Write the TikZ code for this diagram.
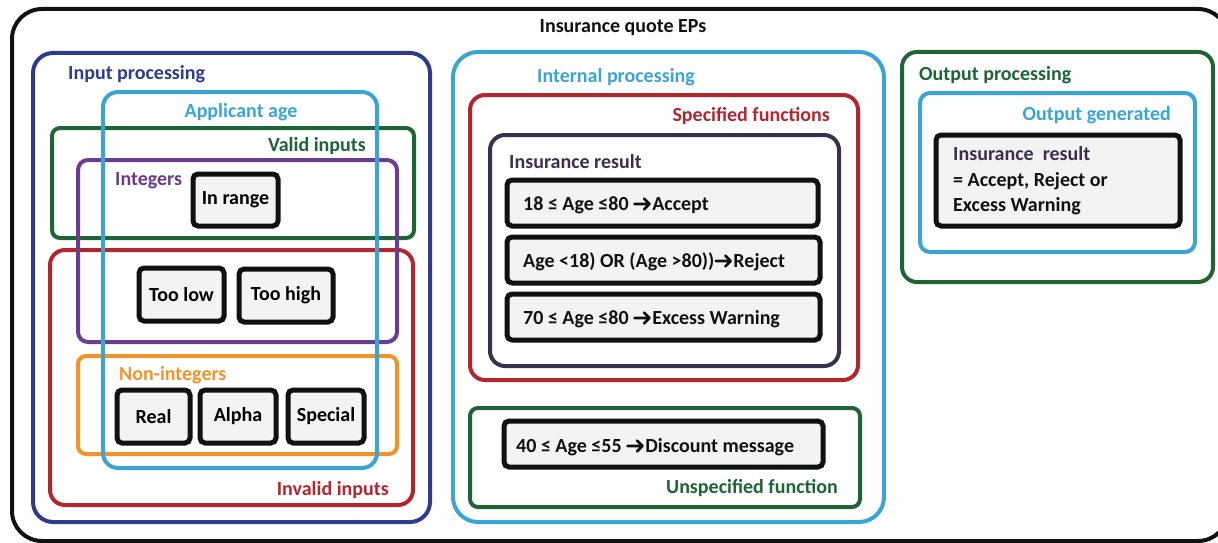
\documentclass[tikz,border=0pt]{standalone}
\usepackage{fontspec}
\setmainfont{Carlito}
\definecolor{cnavy}{HTML}{2F3C8C}
\definecolor{cblue}{HTML}{3AA5D5}
\definecolor{cgreen}{HTML}{1E6434}
\definecolor{cpurple}{HTML}{6A3D8F}
\definecolor{cred}{HTML}{B3262E}
\definecolor{corange}{HTML}{F0932B}
\definecolor{cdark}{HTML}{3B2F4F}
\definecolor{cblack}{HTML}{111111}
\definecolor{cfill}{HTML}{F3F3F3}
\newcommand{\ar}{\tikz[baseline=0pt]\draw[cblack, line width=2.6pt, line cap=round, line join=round] (0pt,6pt) -- (15pt,6pt) (9.5pt,0.5pt) -- (15pt,6pt) -- (9.5pt,11.5pt);\hspace{1.5pt}}
\tikzset{
  container/.style={draw=#1, line width=4pt, rectangle, anchor=north west, inner sep=0pt, outer sep=0pt},
  blackbox/.style={draw=cblack, fill=cfill, line width=5pt, rectangle, rounded corners=5pt, anchor=north west, inner sep=0pt, outer sep=0pt, font=\fontsize{20}{25}\selectfont\bfseries},
  lbl/.style={text=#1, inner sep=0pt, font=\fontsize{20}{25}\selectfont\bfseries},
}
\begin{document}
\begin{tikzpicture}[x=1pt,y=-1pt]
\useasboundingbox (0,0) rectangle (1218,543);
% outer
\node[container=cblack, rounded corners=30pt, minimum width=1216pt, minimum height=532pt] (outer) at (12,9) {};
\node[lbl=cblack, anchor=base] (title) at (623,33) {Insurance quote EPs};
% input processing
\node[container=cnavy, rounded corners=20pt, minimum width=397pt, minimum height=469pt] (inproc) at (33,53) {};
\node[container=cred, rounded corners=15pt, minimum width=363pt, minimum height=255pt] (invalid) at (50,250) {};
\node[container=cgreen, rounded corners=8pt, minimum width=362pt, minimum height=110pt] (valid) at (52,128) {};
\node[container=cpurple, rounded corners=10pt, minimum width=319pt, minimum height=182pt] (integ) at (78,160) {};
\node[container=corange, rounded corners=8pt, minimum width=319pt, minimum height=98pt] (nonint) at (78,356) {};
\node[container=cblue, rounded corners=15pt, minimum width=274pt, minimum height=376pt] (appage) at (103,92) {};
\node[lbl=cnavy, anchor=base west] (linproc) at (68,80) {Input processing};
\node[lbl=cblue, anchor=base] (lappage) at (241,117) {Applicant age};
\node[lbl=cgreen, anchor=base east] (lvalid) at (366,151) {Valid inputs};
\node[lbl=cpurple, anchor=base west] (linteg) at (115,185) {Integers};
\node[lbl=corange, anchor=base west] (lnonint) at (119,380) {Non-integers};
\node[lbl=cred, anchor=base east] (linvalid) at (389,495) {Invalid inputs};
\node[blackbox, minimum width=85pt, minimum height=52pt] (inrange) at (193,174) {In range};
\node[blackbox, minimum width=85pt, minimum height=53pt] (toolow) at (139,268) {Too low};
\node[blackbox, minimum width=94pt, minimum height=53pt] (toohigh) at (239,269) {Too high};
\node[blackbox, minimum width=73pt, minimum height=53pt] (real) at (117,390) {Real};
\node[blackbox, minimum width=76pt, minimum height=53pt] (alpha) at (200,390) {Alpha};
\node[blackbox, minimum width=76pt, minimum height=53pt] (special) at (288,390) {Special};
% internal processing
\node[container=cblue, rounded corners=25pt, minimum width=431pt, minimum height=470pt] (intproc) at (453,52) {};
\node[container=cred, rounded corners=15pt, minimum width=388pt, minimum height=285pt] (specf) at (470,95) {};
\node[container=cdark, rounded corners=15pt, minimum width=349pt, minimum height=231pt] (insres) at (490,135) {};
\node[container=cgreen, rounded corners=8pt, minimum width=390pt, minimum height=99pt] (unspec) at (470,408) {};
\node[lbl=cblue, anchor=base west] (lintproc) at (537,82) {Internal processing};
\node[lbl=cred, anchor=base east] (lspecf) at (830,121) {Specified functions};
\node[lbl=cdark, anchor=base west] (linsres) at (509,168) {Insurance result};
\node[lbl=cgreen, anchor=base east] (lunspec) at (838,493) {Unspecified function};
\node[blackbox, minimum width=311pt, minimum height=46pt] (r1) at (507,180) {};
\node[blackbox, minimum width=313pt, minimum height=46pt] (r2) at (507,237) {};
\node[blackbox, minimum width=313pt, minimum height=46pt] (r3) at (507,294) {};
\node[blackbox, minimum width=319pt, minimum height=46pt] (disc) at (504,421) {};
\node[lbl=cblack, anchor=base west] (t1) at (523,210) {18 ≤ Age ≤80 \ar Accept};
\node[lbl=cblack, anchor=base west] (t2) at (523,267) {Age <18) OR (Age >80))\ar Reject};
\node[lbl=cblack, anchor=base west] (t3) at (523,324) {70 ≤ Age ≤80 \ar Excess Warning};
\node[lbl=cblack, anchor=base west] (t4) at (516,452) {40 ≤ Age ≤55 \ar Discount message};
% output processing
\node[container=cgreen, rounded corners=15pt, minimum width=311pt, minimum height=230pt] (outproc) at (902,52) {};
\node[container=cblue, rounded corners=10pt, minimum width=275pt, minimum height=159pt] (outgen) at (920,93) {};
\node[lbl=cgreen, anchor=base west] (loutproc) at (919,81) {Output processing};
\node[lbl=cblue, anchor=base east] (loutgen) at (1171,120) {Output generated};
\node[blackbox, minimum width=244pt, minimum height=91pt] (res) at (936,135) {};
\node[lbl=cdark, anchor=base west] (resl1) at (953,160) {Insurance\ \ result};
\node[lbl=cblack, anchor=base west] (resl2) at (953,186) {= Accept, Reject or};
\node[lbl=cblack, anchor=base west] (resl3) at (953,211) {Excess Warning};
\end{tikzpicture}
\end{document}
